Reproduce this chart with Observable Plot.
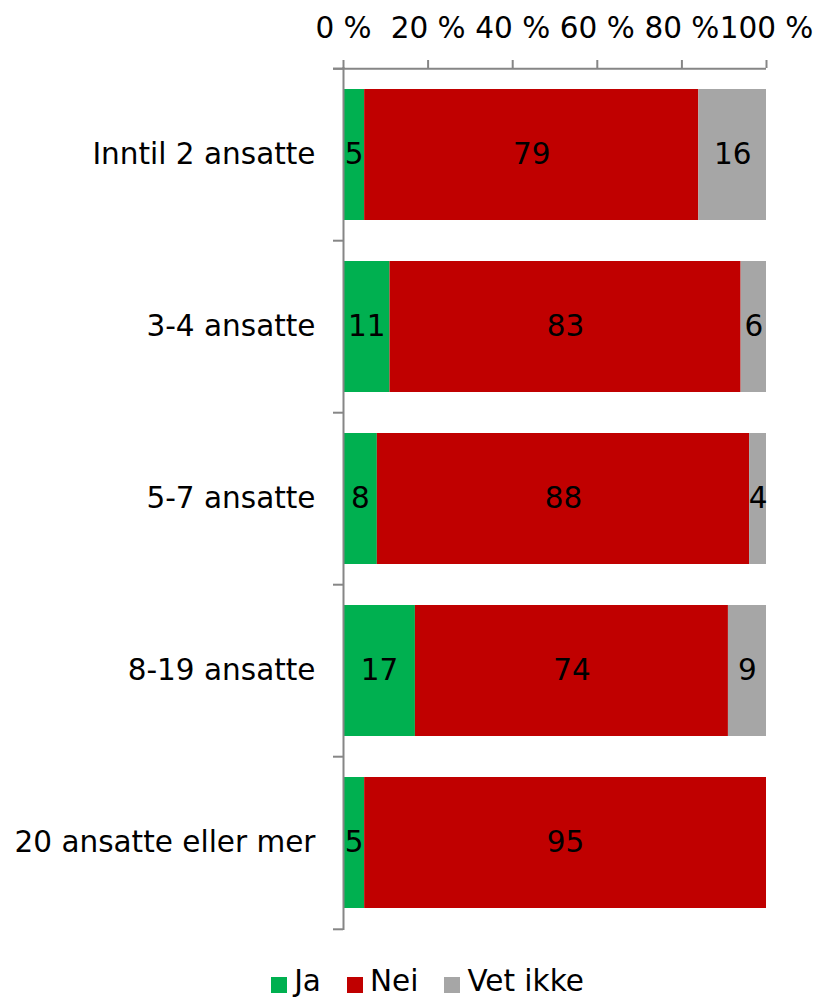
<!DOCTYPE html>
<html>
<head>
<meta charset="utf-8">
<script src="https://cdn.jsdelivr.net/npm/d3@7"></script>
<script src="https://cdn.jsdelivr.net/npm/@observablehq/plot@0.6"></script>
<style>
  body { margin: 0; background: #fff; font-family: "DejaVu Sans", Verdana, sans-serif; }
  #legend { display: flex; justify-content: center; align-items: center; gap: 0; font-size: 29.5px; color: #000; margin-top: 24px; padding-left: 64px; }
  #legend .item { display: flex; align-items: center; margin-right: 26px; }
  #legend .sw { width: 16px; height: 16px; margin-right: 7px; margin-top: 7px; }
</style>
</head>
<body>
<div id="chart"></div>
<div id="legend"></div>
<script>
const categories = ["Inntil 2 ansatte", "3-4 ansatte", "5-7 ansatte", "8-19 ansatte", "20 ansatte eller mer"];
const series = ["Ja", "Nei", "Vet ikke"];
const colors = ["#00B050", "#C00000", "#A6A6A6"];
const ja = [5, 11, 8, 17, 5];
const nei = [79, 83, 88, 74, 95];
const vetIkke = [16, 6, 4, 9, 0];
const xTicks = [0, 20, 40, 60, 80, 100];

const values = [ja, nei, vetIkke];
const data = [];
categories.forEach((c, i) => {
  series.forEach((s, j) => data.push({category: c, series: s, value: values[j][i]}));
});

const axisColor = "#868686";
const step = (930 - 67) / categories.length;
const fs = 29.5;

const chart = Plot.plot({
  width: 817,
  height: 940,
  marginTop: 67,
  marginBottom: 10,
  marginLeft: 343,
  marginRight: 51,
  style: { fontFamily: "DejaVu Sans, Verdana, sans-serif", fontSize: fs + "px", color: "#000", background: "#fff" },
  x: { domain: [0, 100] },
  y: { domain: categories, paddingInner: 0.236, paddingOuter: 0.118 },
  color: { domain: series, range: colors },
  marks: [
    Plot.barX(data, Plot.stackX({ x: "value", y: "category", fill: "series", z: "series", order: series })),
    Plot.text(data.filter(d => d.value > 0), Plot.stackX({ x: "value", y: "category", z: "series", order: series, text: d => String(d.value), fill: "#000", fontSize: fs })),
    Plot.axisX({ anchor: "top", ticks: xTicks, tickFormat: d => d + " %", tickSize: 8, tickPadding: 22, fontSize: fs, stroke: axisColor, strokeWidth: 2, color: "#000", label: null }),
    Plot.ruleX([0], { stroke: axisColor, strokeWidth: 2 }),
    Plot.ruleY(categories, { y: d => d, x1: 0, x2: 0, insetLeft: -10, dy: -step / 2, stroke: axisColor, strokeWidth: 2 }),
    Plot.ruleY(categories.slice(-1), { y: d => d, x1: 0, x2: 0, insetLeft: -10, dy: step / 2, stroke: axisColor, strokeWidth: 2 }),
    Plot.ruleY(categories.slice(0, 1), { y: d => d, x1: 0, x2: 100, insetLeft: -10, dy: -step / 2, stroke: axisColor, strokeWidth: 2 }),
    Plot.axisY({ tickSize: 0, tickPadding: 28, fontSize: fs, label: null, color: "#000" })
  ]
});
document.getElementById("chart").appendChild(chart);

const legend = document.getElementById("legend");
series.forEach((s, i) => {
  const item = document.createElement("div");
  item.className = "item";
  const sw = document.createElement("span");
  sw.className = "sw";
  sw.style.background = colors[i];
  const t = document.createElement("span");
  t.textContent = s;
  item.appendChild(sw);
  item.appendChild(t);
  legend.appendChild(item);
});
</script>
</body>
</html>
